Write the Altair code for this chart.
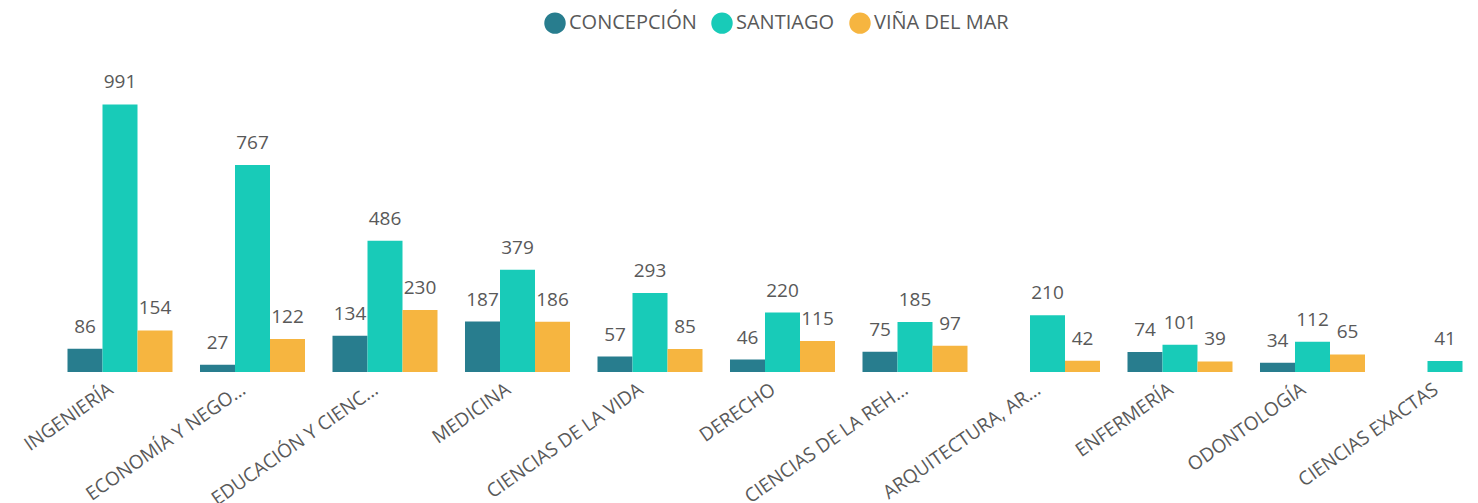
import altair as alt
import pandas as pd

categories = ["INGENIERÍA", "ECONOMÍA Y NEGO…", "EDUCACIÓN Y CIENC…", "MEDICINA",
              "CIENCIAS DE LA VIDA", "DERECHO", "CIENCIAS DE LA REH…",
              "ARQUITECTURA, AR…", "ENFERMERÍA", "ODONTOLOGÍA", "CIENCIAS EXACTAS"]
series = ["CONCEPCIÓN", "SANTIAGO", "VIÑA DEL MAR"]
concepcion = [86, 27, 134, 187, 57, 46, 75, None, 74, 34, None]
santiago = [991, 767, 486, 379, 293, 220, 185, 210, 101, 112, 41]
vina = [154, 122, 230, 186, 85, 115, 97, 42, 39, 65, None]
colors = ["#287D8E", "#18CBB8", "#F6B540"]

rows = []
for i, c in enumerate(categories):
    for s, vals in zip(series, [concepcion, santiago, vina]):
        if vals[i] is not None:
            rows.append({"cat": c, "serie": s, "value": vals[i]})
df = pd.DataFrame(rows)

FONT = "Open Sans"
GREY = "#595959"

x = alt.X("cat:N", sort=categories, title=None,
          scale=alt.Scale(range=[27.5, 1457.5], paddingInner=0.2075, paddingOuter=0),
          axis=alt.Axis(labelAngle=-35, labelAlign="right", labelBaseline="middle",
                        labelPadding=15, labelOffset=-9, ticks=False, domain=False,
                        labelFont=FONT, labelFontSize=19, labelColor=GREY,
                        labelLimit=400, labelOverlap=False))
xo = alt.XOffset("serie:N", sort=series, scale=alt.Scale(paddingInner=0, paddingOuter=0))
y = alt.Y("value:Q", scale=alt.Scale(domain=[0, 1000]), axis=None)

bars = alt.Chart(df).mark_bar().encode(
    x=x, xOffset=xo, y=y,
    color=alt.Color("serie:N", sort=series,
                    scale=alt.Scale(domain=series, range=colors),
                    legend=alt.Legend(title=None, orient="none", direction="horizontal",
                                      legendX=504, legendY=-90, symbolType="circle",
                                      symbolSize=460, labelFont=FONT, labelFontSize=20,
                                      labelColor=GREY, labelOffset=3, columnPadding=14,
                                      symbolStrokeWidth=0)),
)

labels = alt.Chart(df).mark_text(dy=-16, baseline="alphabetic", font=FONT, fontSize=19,
                                 color=GREY).encode(
    x=x, xOffset=xo, y=y, text="value:Q")

chart = (bars + labels).properties(
    width=1420, height=270,
    autosize=alt.AutoSizeParams(type="none"),
    padding={"left": 32, "top": 94, "right": 10, "bottom": 140},
).configure_view(stroke=None)

chart.save("out.html", embed_options={"renderer": "svg", "actions": False})
